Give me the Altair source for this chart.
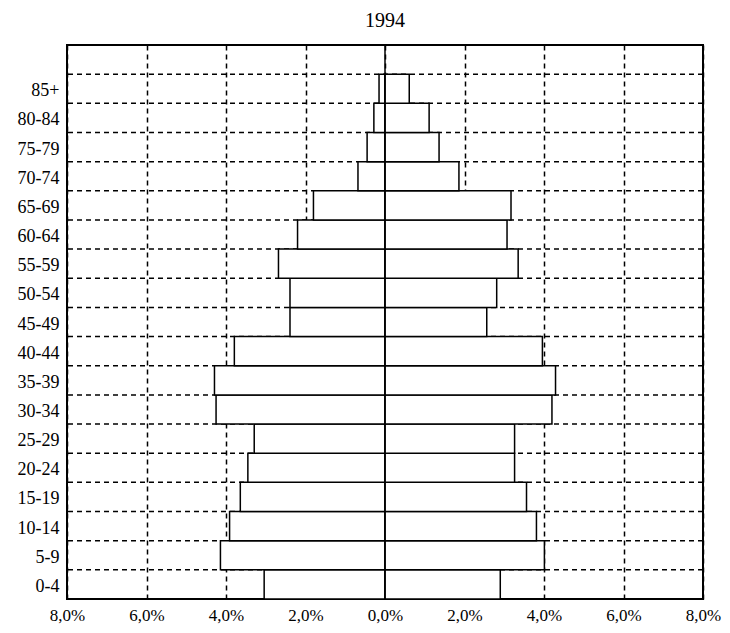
import altair as alt
import pandas as pd

groups = ["0-4", "5-9", "10-14", "15-19", "20-24", "25-29", "30-34", "35-39",
          "40-44", "45-49", "50-54", "55-59", "60-64", "65-69", "70-74",
          "75-79", "80-84", "85+"]
left_vals = [3.04, 4.14, 3.91, 3.64, 3.45, 3.29, 4.25, 4.29, 3.79, 2.39,
             2.39, 2.68, 2.20, 1.80, 0.68, 0.45, 0.28, 0.15]
right_vals = [2.90, 4.01, 3.81, 3.56, 3.26, 3.26, 4.20, 4.29, 3.96, 2.56,
              2.81, 3.35, 3.07, 3.17, 1.86, 1.36, 1.11, 0.61]
x_ticks = [-8, -6, -4, -2, 0, 2, 4, 6, 8]
title_text = "1994"

rows = []
for i, g in enumerate(groups):
    rows.append({"group": g, "lo": i, "hi": i + 1, "x0": -left_vals[i], "x1": 0})
    rows.append({"group": g, "lo": i, "hi": i + 1, "x0": 0, "x1": right_vals[i]})
bars_df = pd.DataFrame(rows)
bounds_df = pd.DataFrame({"b": list(range(1, len(groups) + 1))})
zero_df = pd.DataFrame({"z": [0]})

label_map = "{" + ",".join(f"'{i + 0.5}':'{g}'" for i, g in enumerate(groups)) + "}"
font = "Liberation Serif"

xscale = alt.Scale(domain=[-8, 8], nice=False, zero=False)
yscale = alt.Scale(domain=[0, len(groups) + 1], nice=False, zero=False)

xaxis = alt.Axis(values=x_ticks, grid=True, gridDash=[5, 4], gridColor="#000",
                 gridOpacity=1, gridWidth=1.5, ticks=False, domain=False,
                 labelExpr="replace(format(abs(datum.value), '.1f'), '.', ',') + '%'",
                 labelFont=font, labelFontSize=17, labelColor="#000",
                 labelOverlap=False, labelFlush=False, labelPadding=8, title=None)
yaxis = alt.Axis(values=[i + 0.5 for i in range(len(groups))], grid=False,
                 ticks=False, domain=False,
                 labelExpr=f"{label_map}[toString(datum.value)]",
                 labelFont=font, labelFontSize=18, labelColor="#000",
                 labelOverlap=False, labelFlush=False, labelPadding=8,
                 labelBaseline="middle", labelOffset=2, title=None)

hgrid = alt.Chart(bounds_df).mark_rule(color="#000", strokeDash=[5, 4], strokeWidth=1.5).encode(
    y=alt.Y("b:Q", scale=yscale, axis=yaxis),
)
bars = alt.Chart(bars_df).mark_rect(fill="white", stroke="#000", strokeWidth=1.5).encode(
    x=alt.X("x0:Q", scale=xscale, axis=xaxis),
    x2="x1:Q",
    y=alt.Y("lo:Q", scale=yscale, axis=yaxis),
    y2="hi:Q",
)
zero = alt.Chart(zero_df).mark_rule(color="#000", strokeWidth=1.5).encode(
    x=alt.X("z:Q", scale=xscale, axis=xaxis),
)

chart = alt.layer(hgrid, bars, zero).properties(
    width=636, height=554,
    background="white",
    title=alt.TitleParams(title_text, font=font, fontSize=20, fontWeight="normal",
                          color="#000", offset=13),
    autosize=alt.AutoSizeParams(type="none"),
    padding={"left": 59, "top": 37, "right": 19, "bottom": 26},
).configure_view(stroke="#000", strokeWidth=2).configure_axis(
    labelFont=font, labelColor="#000"
).configure_title(font=font)

chart.save("out.html", embed_options={"renderer": "svg", "actions": False})
